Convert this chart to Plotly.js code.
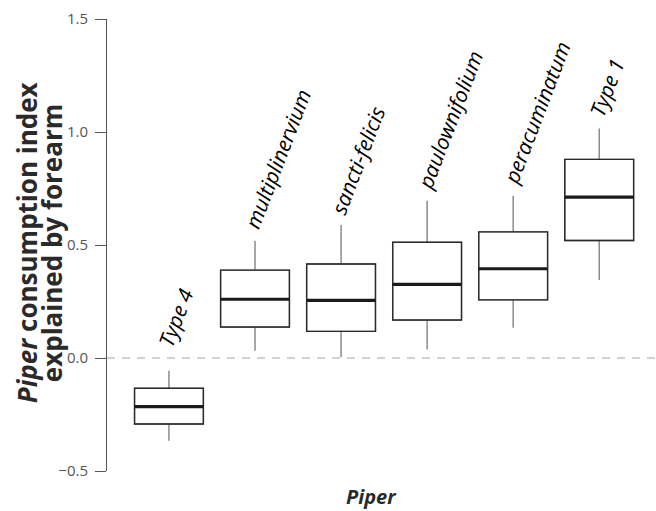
<!DOCTYPE html>
<html>
<head>
<meta charset="utf-8">
<script src="https://cdn.plot.ly/plotly-3.0.1.min.js"></script>
<style>html,body{margin:0;padding:0;background:#fff;}</style>
</head>
<body>
<div id="chart" style="width:656px;height:511px;"></div>
<script>
// ---- data ----
const categories = ["Type 4", "multiplinervium", "sancti-felicis", "paulownifolium", "peracuminatum", "Type 1"];
const lowerWhisker = [-0.366, 0.032, 0.003, 0.038, 0.134, 0.345];
const q1Values     = [-0.292, 0.137, 0.118, 0.168, 0.257, 0.520];
const medianValues = [-0.215, 0.260, 0.255, 0.326, 0.395, 0.712];
const q3Values     = [-0.134, 0.389, 0.416, 0.512, 0.558, 0.879];
const upperWhisker = [-0.056, 0.519, 0.588, 0.696, 0.718, 1.016];
const yTickValues  = [-0.5, 0, 0.5, 1.0, 1.5];

// ---- build ----
const pos = categories.map((c, i) => i);
const boxW = 0.8;

const whiskerTrace = {
  type: 'box', x: pos, q1: q1Values, median: medianValues, q3: q3Values,
  lowerfence: lowerWhisker, upperfence: upperWhisker,
  width: boxW, whiskerwidth: 0, boxpoints: false,
  line: {color: '#7a7a7a', width: 1.3}, fillcolor: '#ffffff',
  hoverinfo: 'skip', showlegend: false
};
const boxTrace = {
  type: 'box', x: pos, q1: q1Values, median: medianValues, q3: q3Values,
  lowerfence: q1Values, upperfence: q3Values,
  width: boxW, whiskerwidth: 0, boxpoints: false,
  line: {color: '#2a2a2a', width: 1.4}, fillcolor: 'rgba(255,255,255,0)',
  hoverinfo: 'skip', showlegend: false
};
const mx = [], my = [];
pos.forEach((p, i) => { mx.push(p - boxW / 2, p + boxW / 2, null); my.push(medianValues[i], medianValues[i], null); });
const medianTrace = {
  type: 'scatter', mode: 'lines', x: mx, y: my,
  line: {color: '#1a1a1a', width: 3.2}, hoverinfo: 'skip', showlegend: false
};

// labels sit above the whisker top, or above the zero line when the box is below it
const labelAnnotations = categories.map((c, i) => ({
  x: pos[i], y: Math.max(upperWhisker[i], 0), xref: 'x', yref: 'y',
  text: c, showarrow: false, textangle: -69,
  xanchor: 'left', yanchor: 'bottom', xshift: -19, yshift: 5,
  font: {family: '"Open Sans", sans-serif', size: 21, style: 'italic', color: '#000'}
}));

const titleFont = {family: '"Open Sans", sans-serif', size: 26, weight: 'bold', color: '#2a2a2a'};
const annotations = labelAnnotations.concat([
  {xref: 'paper', yref: 'paper', x: -0.1457, y: 0.504, xanchor: 'center', yanchor: 'middle',
   textangle: -90, showarrow: false, text: '<i>Piper</i> consumption index', font: titleFont},
  {xref: 'paper', yref: 'paper', x: -0.1002, y: 0.504, xanchor: 'center', yanchor: 'middle',
   textangle: -90, showarrow: false, text: 'explained by forearm', font: titleFont},
  {xref: 'paper', yref: 'paper', x: 0.481, y: -0.0575, xanchor: 'center', yanchor: 'middle',
   showarrow: false, text: '<i>Piper</i>',
   font: {family: '"Open Sans", sans-serif', size: 20, weight: 'bold', color: '#2a2a2a'}}
]);

const layout = {
  width: 656, height: 511,
  margin: {l: 107, r: 0, t: 19, b: 40},
  paper_bgcolor: '#fff', plot_bgcolor: '#fff',
  boxmode: 'overlay', showlegend: false,
  xaxis: {range: [-0.72, 5.66], showgrid: false, zeroline: false, showline: false,
          showticklabels: false, ticks: ''},
  yaxis: {range: [-0.5, 1.5], tickvals: yTickValues, tickformat: '.1f',
          showgrid: false, zeroline: false, showline: true, linecolor: '#555', linewidth: 1,
          ticks: 'outside', ticklen: 11, tickcolor: '#555', tickwidth: 1, ticklabelstandoff: 4,
          tickfont: {family: '"Open Sans", sans-serif', size: 15, color: '#555'}},
  shapes: [{type: 'line', xref: 'paper', x0: 0, x1: 1, yref: 'y', y0: 0, y1: 0,
            line: {color: '#c4c4c4', width: 1.6, dash: '8px,7px'}, layer: 'below'}],
  annotations: annotations
};

Plotly.newPlot('chart', [whiskerTrace, boxTrace, medianTrace], layout, {displayModeBar: false, staticPlot: true});
</script>
</body>
</html>
